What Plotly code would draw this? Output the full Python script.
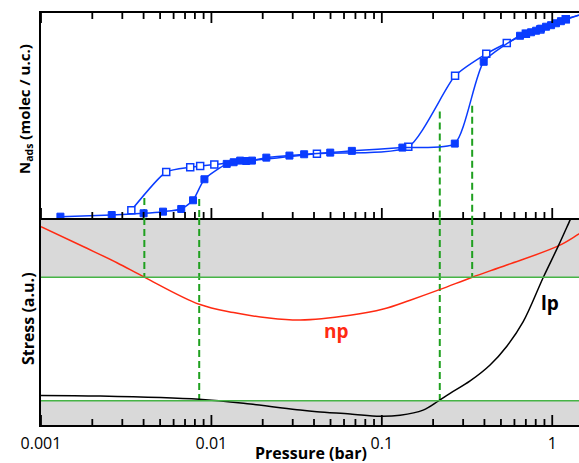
import plotly.graph_objects as go
from plotly.subplots import make_subplots

# ---------------- data ----------------
# adsorption branch (filled squares)
ads_p = [0.0013, 0.0026, 0.0040, 0.0052, 0.00665, 0.0078, 0.0091, 0.0123, 0.0135,
         0.01475, 0.016, 0.0173, 0.021, 0.0287, 0.035, 0.0498, 0.0667, 0.132, 0.268,
         0.396, 0.647, 0.702, 0.751, 0.804, 0.859, 0.920, 0.984, 1.052, 1.125, 1.205, 1.6]
ads_n = [0.13, 0.29, 0.46, 0.62, 0.88, 1.73, 3.78, 5.28, 5.44,
         5.60, 5.56, 5.60, 5.89, 6.09, 6.22, 6.38, 6.55, 6.87, 7.26,
         15.24, 17.78, 17.98, 18.12, 18.27, 18.47, 18.66, 18.81, 19.00, 19.20, 19.39, 20.03]
# desorption branch (open squares)
des_p = [0.00339, 0.00543, 0.00751, 0.00859, 0.0104, 0.0416, 0.143, 0.269, 0.41, 0.541,
         0.70, 0.85, 1.2, 1.6]
des_n = [0.75, 4.49, 4.95, 5.08, 5.21, 6.28, 6.94, 13.87, 16.02, 17.07,
         17.98, 18.4, 19.4, 20.03]

# stress curves
np_p = [0.001, 0.00178, 0.00279, 0.00404, 0.00848, 0.01348, 0.0212, 0.0332, 0.0652,
        0.102, 0.1466, 0.220, 0.339, 0.541, 1.086, 1.436, 1.6]
np_s = [9.58, 8.61, 7.84, 7.14, 5.83, 5.43, 5.18, 5.07, 5.30,
        5.60, 6.03, 6.55, 7.14, 7.73, 8.65, 9.23, 9.45]
lp_p = [0.001, 0.00223, 0.00848, 0.0169, 0.0332, 0.0416, 0.0652, 0.0977, 0.128, 0.1747,
        0.2153, 0.2515, 0.3296, 0.4316, 0.5431, 0.6742, 0.8867, 1.0859, 1.272, 1.361]
lp_s = [1.43, 1.40, 1.24, 1.01, 0.72, 0.64, 0.53, 0.42, 0.47, 0.72,
        1.17, 1.53, 2.13, 2.90, 3.82, 4.98, 7.14, 8.65, 9.90, 10.43]

# stress thresholds (green lines)
upper_thr = 7.14
lower_thr = 1.17

# transition pressures (dashed lines): pressure, start in top panel, end in bottom panel
trans_p = [0.00404, 0.00848, 0.2188, 0.339]
trans_top = [1.95, 1.86, 10.39, 10.94]
trans_bot = [upper_thr, lower_thr, lower_thr, upper_thr]

tick_vals = [0.001, 0.01, 0.1, 1]
tick_text = ["0.001", "0.01", "0.1", "1"]
minor_vals = [m * 10 ** e for e in range(-3, 1) for m in range(2, 10)]

TOP_RANGE = [0, 20]
BOT_RANGE = [0, 10]
X_RANGE = [-3, 0.157]

# layout geometry (pixels)
W, H = 579, 463
M_L, M_R, M_T, M_B = 41, 0, 13, 38
PLOT_H = H - M_T - M_B
BOT_PX = 207
TOP_PX = PLOT_H - BOT_PX
MAJOR_LEN, MINOR_LEN = 10, 6

BLUE = "#0a3cff"
RED = "#ff2a12"
GREEN_D = "#1fa01f"
GREEN_S = "#46b446"
GRAY = "#d9d9d9"
FONT = "Open Sans"

fig = make_subplots(rows=2, cols=1, shared_xaxes=False, vertical_spacing=0)


def tick_trace(vals, base, length, xa, ya):
    xs, ys = [], []
    for v in vals:
        xs += [v, v, None]
        ys += [base, base + length, None]
    return go.Scatter(x=xs, y=ys, mode="lines", xaxis=xa, yaxis=ya,
                      line=dict(color="black", width=1.8), showlegend=False,
                      hoverinfo="skip", cliponaxis=False)


# dashed transition lines
for p, yt, yb in zip(trans_p, trans_top, trans_bot):
    fig.add_trace(go.Scatter(x=[p, p], y=[yt, TOP_RANGE[0]], mode="lines",
                             line=dict(color=GREEN_D, width=2, dash="7px,4px"),
                             showlegend=False, hoverinfo="skip"), row=1, col=1)
    fig.add_trace(go.Scatter(x=[p, p], y=[BOT_RANGE[1], yb], mode="lines",
                             line=dict(color=GREEN_D, width=2, dash="7px,4px"),
                             showlegend=False, hoverinfo="skip"), row=2, col=1)

# isotherms
fig.add_trace(go.Scatter(x=des_p, y=des_n, mode="lines+markers",
                         line=dict(color=BLUE, width=1.5, shape="spline", smoothing=0.6),
                         marker=dict(symbol="square", size=7, color="white",
                                     line=dict(color=BLUE, width=1.5)),
                         showlegend=False), row=1, col=1)
fig.add_trace(go.Scatter(x=ads_p, y=ads_n, mode="lines+markers",
                         line=dict(color=BLUE, width=1.5, shape="spline", smoothing=0.6),
                         marker=dict(symbol="square", size=7, color=BLUE,
                                     line=dict(color=BLUE, width=1)),
                         showlegend=False), row=1, col=1)

# stress curves
fig.add_trace(go.Scatter(x=np_p, y=np_s, mode="lines",
                         line=dict(color=RED, width=1.5, shape="spline", smoothing=1),
                         showlegend=False), row=2, col=1)
fig.add_trace(go.Scatter(x=lp_p, y=lp_s, mode="lines",
                         line=dict(color="black", width=1.5, shape="spline", smoothing=1),
                         showlegend=False), row=2, col=1)

# inside tick marks drawn as line traces
top_u = (TOP_RANGE[1] - TOP_RANGE[0]) / TOP_PX
bot_u = (BOT_RANGE[1] - BOT_RANGE[0]) / BOT_PX
for vals, ln in ((tick_vals, MAJOR_LEN), (minor_vals, MINOR_LEN)):
    fig.add_trace(tick_trace(vals, TOP_RANGE[0], ln * top_u, "x", "y"))
    fig.add_trace(tick_trace(vals, TOP_RANGE[1], -ln * top_u, "x", "y"))
    fig.add_trace(tick_trace(vals, BOT_RANGE[0], ln * bot_u, "x2", "y2"))

# gray bands and green threshold lines
fig.add_shape(type="rect", xref="x2 domain", yref="y2", x0=0, x1=1,
              y0=upper_thr, y1=BOT_RANGE[1], fillcolor=GRAY, line_width=0, layer="below")
fig.add_shape(type="rect", xref="x2 domain", yref="y2", x0=0, x1=1,
              y0=BOT_RANGE[0], y1=lower_thr, fillcolor=GRAY, line_width=0, layer="below")
for yv in (upper_thr, lower_thr):
    fig.add_shape(type="line", xref="x2 domain", yref="y2", x0=0, x1=1,
                  y0=yv, y1=yv, line=dict(color=GREEN_S, width=1.5))

axis_common = dict(type="log", range=X_RANGE, showline=True, linecolor="black",
                   linewidth=2, ticks="", tickmode="array", tickvals=tick_vals,
                   ticktext=tick_text, showgrid=False, zeroline=False,
                   automargin=False)
fig.update_xaxes(**axis_common, mirror=True, showticklabels=False, row=1, col=1)
fig.update_xaxes(**axis_common, mirror=False, showticklabels=True, ticklabelstandoff=3,
                 tickfont=dict(family=FONT, size=16, color="black"), row=2, col=1)

fig.update_yaxes(range=TOP_RANGE, showline=True, linecolor="black", linewidth=2,
                 ticks="", showticklabels=False, showgrid=False, zeroline=False,
                 automargin=False, domain=[BOT_PX / PLOT_H, 1], row=1, col=1)
fig.update_yaxes(range=BOT_RANGE, showline=True, linecolor="black", linewidth=2,
                 ticks="", showticklabels=False, showgrid=False, zeroline=False,
                 automargin=False, domain=[0, BOT_PX / PLOT_H], row=2, col=1)

annotations = [
    dict(text="<b>N<sub>ads</sub> (molec / u.c.)</b>", xref="paper", yref="paper",
         x=0, y=0.767, xanchor="center", yanchor="middle", xshift=-16, textangle=-90,
         showarrow=False, font=dict(family=FONT, size=15, color="black")),
    dict(text="<b>Stress (a.u.)</b>", xref="paper", yref="paper",
         x=0, y=0.257, xanchor="center", yanchor="middle", xshift=-13, textangle=-90,
         showarrow=False, font=dict(family=FONT, size=16, color="black")),
    dict(text="<b>Pressure (bar)</b>", xref="paper", yref="paper",
         x=0.502, y=0, xanchor="center", yanchor="middle", yshift=-28,
         showarrow=False, font=dict(family=FONT, size=16, color="black")),
    dict(text="<b>np</b>", xref="x2", yref="y2", x=-1.264, y=4.54,
         showarrow=False, font=dict(family=FONT, size=19, color=RED)),
    dict(text="<b>lp</b>", xref="x2", yref="y2", x=-0.016, y=5.89,
         showarrow=False, font=dict(family=FONT, size=19, color="black")),
]

fig.update_layout(width=W, height=H, margin=dict(l=M_L, r=M_R, t=M_T, b=M_B),
                  paper_bgcolor="white", plot_bgcolor="white",
                  annotations=annotations, showlegend=False,
                  font=dict(family=FONT, color="black"))

fig.write_html("out.html", config={"displayModeBar": False},
               post_script="document.body.style.margin='0px';document.body.style.overflow='hidden';")
